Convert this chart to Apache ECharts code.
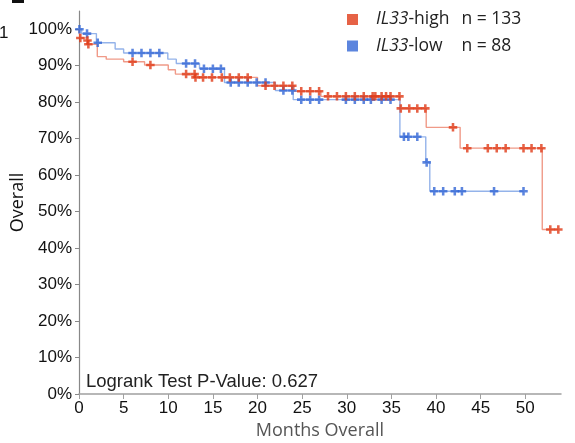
<!DOCTYPE html>
<html>
<head>
<meta charset="utf-8">
<script src="https://cdn.jsdelivr.net/npm/echarts@6/dist/echarts.min.js"></script>
<style>html,body{margin:0;padding:0;background:#fff}#c{width:575px;height:443px}</style>
</head>
<body>
<div id="c"></div>
<script>
// IL33-high: step times (months) and survival (%) after each step
const highStepTime = [0, 0.1, 0.9, 1.0, 2.05, 3.05, 5.0, 7.35, 10.0, 10.8, 13.0, 20.0, 24.1, 27.1, 35.95, 38.9, 42.7, 51.9];
const highStepSurv = [100, 97.6, 96.9, 95.9, 92.5, 91.8, 91.1, 90.2, 88.9, 87.7, 86.8, 84.5, 83.0, 81.6, 78.3, 73.1, 67.4, 45.1];
const highEnd = 53.7;
const highCensor = [0.15, 0.95, 1.05, 6.0, 8.0, 12.0, 12.95, 13.05, 13.9, 14.9, 16.0, 16.9, 17.9, 18.9, 20.9, 21.9, 22.9, 23.9, 24.9, 25.9, 26.9, 27.9, 28.9, 29.9, 30.9, 31.9, 32.9, 33.2, 33.9, 34.4, 34.9, 35.9, 36.05, 37.0, 37.9, 38.8, 41.9, 43.5, 45.8, 46.8, 47.8, 49.8, 50.7, 51.8, 52.8, 53.7];

// IL33-low
const lowStepTime = [0, 0.3, 1.95, 4.05, 5.0, 9.95, 10.9, 13.5, 16.3, 22.0, 24.0, 35.95, 38.85, 39.3];
const lowStepSurv = [100, 98.8, 96.3, 94.6, 93.5, 91.8, 90.6, 89.2, 85.4, 83.2, 80.7, 70.5, 63.5, 55.6];
const lowEnd = 49.8;
const lowCensor = [0.05, 0.9, 2.1, 6.0, 7.0, 8.0, 9.0, 12.0, 13.0, 14.0, 15.0, 15.9, 17.0, 17.9, 18.9, 19.9, 20.9, 22.9, 23.9, 24.9, 25.9, 26.9, 29.9, 30.9, 31.9, 32.7, 33.9, 34.9, 36.4, 36.9, 37.9, 38.95, 39.8, 40.8, 42.1, 42.9, 46.5, 49.8];

const groupNames = ['high', 'low'];
const groupCounts = [133, 88];
const xTicks = [0, 5, 10, 15, 20, 25, 30, 35, 40, 45, 50];
const yTicks = [0, 10, 20, 30, 40, 50, 60, 70, 80, 90, 100];
const pValue = '0.627';

function stepData(times, surv, end) {
  const d = times.map((t, i) => [t, surv[i]]);
  d.push([end, surv[surv.length - 1]]);
  return d;
}
function survAt(times, surv, t) {
  let v = surv[0];
  for (let i = 0; i < times.length; i++) { if (times[i] <= t) v = surv[i]; }
  return v;
}
const highCensorData = highCensor.map(t => [t, survAt(highStepTime, highStepSurv, t)]);
const lowCensorData = lowCensor.map(t => [t, survAt(lowStepTime, lowStepSurv, t)]);

const plus = 'path://M2.8,0h2.4v2.8h2.8v2.4h-2.8v2.8h-2.4v-2.8h-2.8v-2.4h2.8z';
const RED = '#e03b18', BLUE = '#3366d6';

const chart = echarts.init(document.getElementById('c'), null, {renderer: 'canvas'});
chart.setOption({
  animation: false,
  backgroundColor: '#fff',
  grid: {left: 79, right: 14, top: 11, bottom: 49, containLabel: false, outerBoundsMode: 'none'},
  legend: {
    data: groupNames,
    left: 347, top: 9.5, orient: 'vertical', padding: 0,
    icon: 'rect', itemWidth: 11, itemHeight: 11, itemGap: 6.5,
    formatter: function (n) {
      const i = groupNames.indexOf(n);
      return '{s| }{i|IL33}{h|-' + n + '}{n|n = ' + groupCounts[i] + '}';
    },
    textStyle: {
      color: '#222', fontFamily: 'Open Sans', fontSize: 17.5, lineHeight: 20,
      rich: {
        s: {width: 13},
        i: {fontStyle: 'italic', fontFamily: 'Open Sans', fontSize: 17.5, color: '#222'},
        h: {width: 53, fontFamily: 'Open Sans', fontSize: 17.5, color: '#222'},
        n: {fontFamily: 'Open Sans', fontSize: 17.5, color: '#222'}
      }
    }
  },
  xAxis: {
    type: 'value', min: 0, max: 54, interval: 5,
    name: 'Months Overall', nameLocation: 'middle', nameGap: 28, nameMoveOverlap: false,
    nameTextStyle: {fontFamily: 'Open Sans', fontSize: 18, color: '#555'},
    axisLine: {lineStyle: {color: '#a0a0a0', width: 1.5}},
    axisTick: {show: true, length: 5, lineStyle: {color: '#a0a0a0'}, customValues: xTicks},
    axisLabel: {customValues: xTicks, fontFamily: 'Liberation Sans', fontSize: 17, color: '#111', margin: 6},
    splitLine: {show: false}
  },
  yAxis: {
    type: 'value', min: 0, max: 105, interval: 10,
    name: 'Overall', nameLocation: 'middle', nameGap: 52, nameMoveOverlap: false,
    nameTextStyle: {fontFamily: 'Open Sans', fontSize: 18, color: '#111'},
    axisLine: {show: true, lineStyle: {color: '#888', width: 1.2}},
    axisTick: {show: true, length: 4, lineStyle: {color: '#888'}, customValues: yTicks},
    axisLabel: {customValues: yTicks, formatter: v => v + '%', fontFamily: 'Liberation Sans', fontSize: 17, color: '#111', margin: 7},
    splitLine: {show: false}
  },
  graphic: [
    {type: 'text', left: 86, top: 372, style: {text: 'Logrank Test P-Value: ' + pValue, font: '18.5px "Liberation Sans"', fill: '#222'}},
    {type: 'text', left: -1, top: 25, style: {text: '1', font: '17px "Liberation Sans"', fill: '#111'}},
    {type: 'rect', shape: {x: 12, y: 0, width: 12, height: 3}, style: {fill: '#111'}}
  ],
  series: [
    {name: 'highLine', type: 'line', step: 'end', showSymbol: false, symbol: 'none',
     data: stepData(highStepTime, highStepSurv, highEnd), lineStyle: {color: '#f09a88', width: 1.4}, z: 2},
    {name: 'lowLine', type: 'line', step: 'end', showSymbol: false, symbol: 'none',
     data: stepData(lowStepTime, lowStepSurv, lowEnd), lineStyle: {color: '#94b3ea', width: 1.4}, z: 2},
    {name: 'high', type: 'scatter', symbol: plus, symbolSize: 8.5, data: highCensorData,
     itemStyle: {color: RED}, z: 4},
    {name: 'low', type: 'scatter', symbol: plus, symbolSize: 8.5, data: lowCensorData,
     itemStyle: {color: BLUE}, z: 3}
  ]
});
</script>
</body>
</html>
